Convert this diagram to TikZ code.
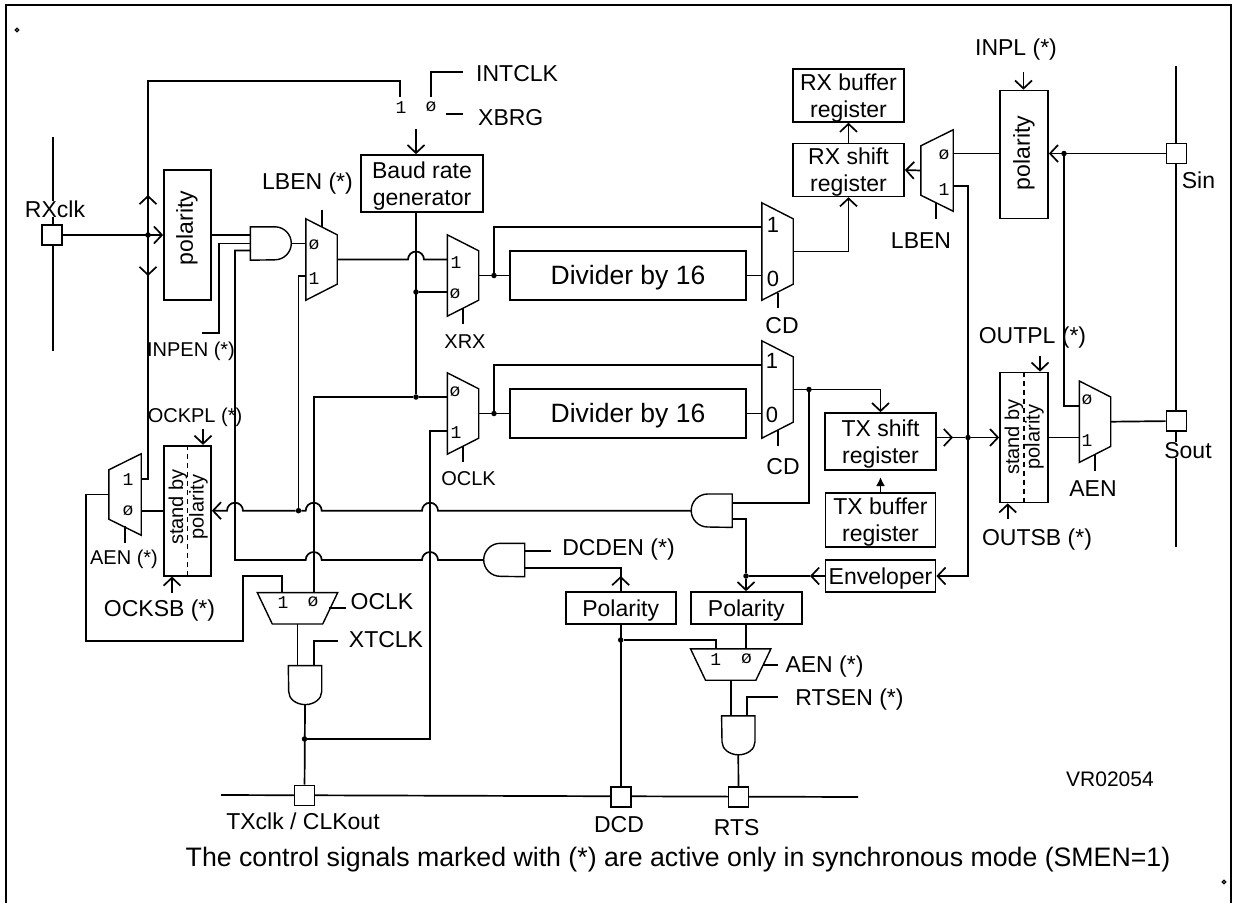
\documentclass[tikz,border=0pt]{standalone}
\usepackage{fontspec}
\setmainfont{Liberation Sans}
\newfontfamily\monofam{Liberation Mono}
\usetikzlibrary{arrows.meta,calc}
% wire hops over a vertical wire, walking right or left
\newcommand{\hopr}[1]{-- ($(#1)+(-8,0)$) arc[start angle=180,end angle=0,radius=8pt]}
\newcommand{\hopl}[1]{-- ($(#1)+(8,0)$) arc[start angle=0,end angle=180,radius=8pt]}
\tikzset{
  wire/.style={line width=1.7pt},
  gateline/.style={line width=1.4pt, line join=miter},
  regbox/.style={draw, line width=1.7pt, inner sep=0pt, align=center, text height=48pt, font=\fontsize{23}{27}\selectfont},
  oneline/.style={regbox, text height=19pt, text depth=3pt},
  divbox/.style={regbox, text height=23pt, text depth=5pt, minimum width=236pt, minimum height=49pt, font=\fontsize{26.5}{28}\selectfont},
  polbox/.style={draw, line width=1.7pt, inner sep=0pt},
  padbox/.style={draw, fill=white, line width=1.7pt, inner sep=0pt, minimum size=20pt},
  jdot/.style={circle, fill=black, inner sep=0pt, minimum size=5.5pt},
  cornerdot/.style={circle, draw, line width=1.3pt, inner sep=0pt, minimum size=3.5pt},
  lab/.style={inner sep=0pt, text height=16.5pt, text depth=0pt, font=\fontsize{23}{27}\selectfont},
  labs/.style={inner sep=0pt, text height=14.4pt, text depth=0pt, font=\fontsize{20}{24}\selectfont},
  digit/.style={inner sep=0pt, font=\monofam\fontsize{18}{20}\selectfont},
  muxright/.style={inner sep=0pt, minimum width=31pt, minimum height=#1,
    append after command={\pgfextra{\draw[gateline] (\tikzlastnode.north west) -- ($(\tikzlastnode.north east)+(0,16)$) -- ($(\tikzlastnode.south east)+(0,-16)$) -- (\tikzlastnode.south west) -- cycle;}}},
  muxleft/.style={inner sep=0pt, minimum width=32pt, minimum height=#1,
    append after command={\pgfextra{\draw[gateline] (\tikzlastnode.north east) -- ($(\tikzlastnode.north west)+(0,16)$) -- ($(\tikzlastnode.south west)+(0,-16)$) -- (\tikzlastnode.south east) -- cycle;}}},
  muxdown/.style={inner sep=0pt, minimum width=80pt, minimum height=31pt,
    append after command={\pgfextra{\draw[gateline] (\tikzlastnode.north west) -- (\tikzlastnode.north east) -- ($(\tikzlastnode.south east)+(-15,0)$) -- ($(\tikzlastnode.south west)+(15,0)$) -- cycle;}}},
  andright/.style={inner sep=0pt, minimum width=41pt, minimum height=33pt,
    append after command={\pgfextra{\draw[gateline] (\tikzlastnode.north west) -- ++(24.5,0) arc[start angle=90,end angle=-90,radius=16.5pt] -- (\tikzlastnode.south west) -- cycle;}}},
  andleft/.style={inner sep=0pt, minimum width=41pt, minimum height=33pt,
    append after command={\pgfextra{\draw[gateline] (\tikzlastnode.north east) -- ++(-24.5,0) arc[start angle=90,end angle=270,radius=16.5pt] -- (\tikzlastnode.south east) -- cycle;}}},
  anddown/.style={inner sep=0pt, minimum width=33pt, minimum height=39pt,
    append after command={\pgfextra{\draw[gateline] (\tikzlastnode.north east) -- ++(0,26) arc[start angle=0,end angle=-180,x radius=16.5pt,y radius=13pt] -- (\tikzlastnode.north west) -- cycle;}}},
}
\begin{document}
\begin{tikzpicture}[x=1pt, y=-1pt, >={Straight Barb[length=8pt,width=17pt]}]
\useasboundingbox (0,0) rectangle (1237,903);
% Frame and corner marks
\draw[line width=2pt] (6,903) -- (6,5) -- (1231,5) -- (1231,903);
\node[cornerdot] (marka) at (17,30) {};
\node[cornerdot] (markb) at (1224,882) {};
% Baud rate part and registers
\node[regbox, minimum width=122pt, minimum height=57pt] (baud) at (422,183.5) {Baud rate\\generator};
\node[regbox, minimum width=111pt, minimum height=51pt] (rxbuf) at (848.5,95.5) {RX buffer\\register};
\node[regbox, minimum width=111pt, minimum height=48pt] (rxshift) at (848.5,170) {RX shift\\register};
\node[regbox, minimum width=111pt, minimum height=57pt] (txshift) at (880.5,441.5) {TX shift\\register};
\node[regbox, minimum width=110pt, minimum height=54pt] (txbuf) at (880.5,520) {TX buffer\\register};
\node[oneline, minimum width=110pt, minimum height=32pt] (envel) at (880.5,576) {Enveloper};
\node[oneline, minimum width=110pt, minimum height=32pt] (polL) at (620.7,608) {Polarity};
\node[oneline, minimum width=111pt, minimum height=32pt] (polR) at (746.3,608) {Polarity};
\node[divbox] (divone) at (628,275.5) {Divider by 16};
\node[divbox] (divtwo) at (628,413.5) {Divider by 16};
% Upright boxes, text turned separately
\node[polbox, minimum width=47pt, minimum height=130pt] (polrx) at (187.5,235) {};
\node[polbox, minimum width=48pt, minimum height=128pt] (polin) at (1024,154.5) {};
\node[polbox, minimum width=48pt, minimum height=130pt] (sbout) at (1024,437.5) {};
\node[polbox, minimum width=47pt, minimum height=130pt] (sbck) at (187.5,510.7) {};
\draw[wire, dash pattern=on 5pt off 4pt] (sbout.north) -- (sbout.south);
\draw[wire, dash pattern=on 5pt off 4pt] (sbck.north) -- (sbck.south);
\node[lab, rotate=90, text depth=5pt] (tpolrx) at (187,228) {polarity};
\node[lab, rotate=90, text depth=5pt] (tpolin) at (1024,153) {polarity};
\node[labs, rotate=90] (tsbouta) at (1012,437) {stand by};
\node[labs, rotate=90, text depth=5pt] (tsboutb) at (1035,437) {polarity};
\node[labs, rotate=90] (tsbcka) at (176,507) {stand by};
\node[labs, rotate=90, text depth=5pt] (tsbckb) at (199,507) {polarity};
% Muxes and gates
\node[muxright=81pt] (mxlb) at (321.5,259.5) {};
\node[muxright=81pt] (mxrx) at (463,275.5) {};
\node[muxright=81pt] (mxoc) at (463,413.5) {};
\node[muxright=97pt] (mxcdrx) at (777.5,251.5) {};
\node[muxright=97pt] (mxcdtx) at (777.5,389.5) {};
\node[muxright=81pt] (mxout) at (1095,421.7) {};
\node[muxleft=81pt] (mxin) at (937,170.5) {};
\node[muxleft=81pt] (mxck) at (125,494.5) {};
\node[muxdown] (mxtx) at (297.5,608.3) {};
\node[muxdown] (mxrt) at (730.7,664.5) {};
\node[andright] (gaterx) at (271,243.5) {};
\node[andleft] (gatetx) at (711.5,510.7) {};
\node[andleft] (gatedc) at (504,560) {};
\node[anddown] (gateck) at (305,685.3) {};
\node[anddown] (gatert) at (738.3,735.5) {};
% Junctions
\node[jdot] (jrx) at (148,235) {};
\node[jdot] (jbaudb) at (416,292) {};
\node[jdot] (jbaudo) at (416,397) {};
\node[jdot] (jxrx) at (494,275.5) {};
\node[jdot] (joc) at (494,413.5) {};
\node[jdot] (jtxo) at (809,389.5) {};
\node[jdot] (jtxs) at (968,437.5) {};
\node[jdot] (jsin) at (1064,153.5) {};
\node[jdot] (jenv) at (746,576) {};
\node[jdot] (jfb) at (298.5,510.7) {};
\node[jdot] (jdcd) at (620.7,640) {};
\node[jdot] (jtxc) at (304.5,739) {};
% Free ends and corners
\coordinate (rxtop) at (53,137);
\coordinate (rxbot) at (53,351);
\coordinate (sintop) at (1176,66);
\coordinate (sinbot) at (1176,547);
\coordinate (busl) at (221,795);
\coordinate (busr) at (858,797);
\coordinate (selone) at (400,97);
\coordinate (selzero) at (431,97);
\coordinate (intend) at (463,72);
\coordinate (baudin) at (416,129);
\coordinate (inpend) at (202,333);
\coordinate (andmid) at (219,243.5);
\coordinate (andlow) at (235,560);
\coordinate (oclkin) at (313.7,592.7);
\coordinate (cklin) at (282,592.7);
\coordinate (ockone) at (430,431);
\coordinate (rtsone) at (715.7,649);
\coordinate (dcdend) at (551,550.7);
\coordinate (xtend) at (337.7,640.7);
\coordinate (rtsend) at (778,697);
\coordinate (inplin) at (1023.5,72);
\coordinate (outplin) at (1040,356);
\coordinate (outsbin) at (1007.7,519);
\coordinate (ockplin) at (203,429);
\coordinate (ocksbin) at (172,593);
% Rails and pads
\draw[wire] (rxtop) -- (rxbot);
\draw[wire] (sintop) -- (sinbot);
\draw[wire] (busl) -- (busr);
\node[padbox] (padrx) at (52,235) {};
\node[padbox] (padsin) at (1176.5,153.5) {};
\node[padbox] (padout) at (1176.5,421) {};
\node[padbox] (padtx) at (304.5,795.5) {};
\node[padbox] (paddcd) at (620.7,797) {};
\node[padbox] (padrts) at (738.5,797) {};
% Clock input side
\draw[wire, ->] (padrx) -- (polrx.west |- padrx);
\draw[wire] (mxck.east |- 0,479) -| (148,81) -| (selone);
\draw[wire, ->] (jrx) -- (148,195);
\draw[wire, ->] (jrx) -- (148,276);
\draw[wire] (polrx.east |- jrx) -- (gaterx.west |- jrx);
\draw[wire] (inpend) -| (andmid) -- (gaterx.west);
\draw[wire] (gaterx.west |- 0,250.5) -| (andlow) \hopr{oclkin |- andlow} \hopr{ockone |- andlow} -- (gatedc.west);
\draw[wire] (gaterx.east) -- (mxlb.west |- gaterx.east);
\draw[wire] (322,210) -- (322,227);
\draw[wire] (mxlb.east) \hopr{416,259.5} -- (mxrx.west |- mxlb.east);
\draw[wire] (mxlb.west |- 0,276) -| (jfb);
% Baud rate generator
\draw[wire] (selzero) |- (intend);
\draw[wire] (446,114) -- (463,114);
\draw[wire, ->] (baudin) -- (baudin |- baud.north);
\draw[wire] (baudin |- baud.south) -- (jbaudo);
\draw[wire] (jbaudb) -- (mxrx.west |- jbaudb);
\draw[wire] (jbaudo) -- (mxoc.west |- jbaudo);
\draw[wire] (jbaudo) -| (oclkin);
% Receive path
\draw[wire] (463,308) -- (463,324);
\draw[wire] (mxrx.east) -- (divone.west);
\draw[wire] (jxrx) |- (mxcdrx.west |- 0,227);
\draw[wire] (divone.east) -- (mxcdrx.west |- divone.east);
\draw[wire] (778,293) -- (778,308);
\draw[wire, ->] (mxcdrx.east) -| (rxshift.south);
\draw[wire, ->] (rxshift.north) -- (rxbuf.south);
\draw[wire, ->] (mxin.west) -- (rxshift.east);
\draw[wire] (936,203) -- (936,219);
\draw[wire] (mxin.east |- jsin) -- (polin.west |- jsin);
\draw[wire, ->] (padsin) -- (polin.east |- padsin);
\draw[wire] (jsin) |- (mxout.west |- 0,406);
\draw[wire, ->] (inplin) -- (inplin |- polin.north);
\draw[wire] (mxin.east |- 0,186) -| (jtxs);
\draw[wire, ->] (jtxs) |- (envel.east);
% Transmit path
\draw[wire] (463,446) -- (463,462);
\draw[wire] (mxoc.east) -- (divtwo.west);
\draw[wire] (joc) |- (mxcdtx.west |- 0,365);
\draw[wire] (divtwo.east) -- (mxcdtx.west |- divtwo.east);
\draw[wire] (778,430) -- (778,446);
\draw[wire, ->] (mxcdtx.east) -| (txshift.north);
\draw[wire] (jtxo) |- (gatetx.east |- 0,502.7);
\draw[wire, -{Latex[length=9pt,width=9pt]}] (txbuf.north) -- (880.5,477);
\draw[wire, ->] (txshift.east |- jtxs) -- (953,437.5);
\draw[wire] (953,437.5) -- (jtxs);
\draw[wire, ->] (jtxs) -- (sbout.west);
\draw[wire] (sbout.east) -- (mxout.west |- sbout.east);
\draw[wire] (mxout.east) -- (padout);
\draw[wire] (1095,455) -- (1095,471);
\draw[wire, ->] (outplin) -- (outplin |- sbout.north);
\draw[wire, ->] (outsbin) -- (outsbin |- sbout.south);
% Modem control side
\draw[wire, ->] (envel.west) -- (810,576);
\draw[wire] (810,576) -- (jenv);
\draw[wire] (gatetx.east |- 0,518.7) -| (jenv);
\draw[wire, ->] (jenv) -- (jenv |- polR.north);
\draw[wire] (gatedc.east |- dcdend) -- (dcdend);
\draw[wire] (gatedc.east |- 0,567.7) -| (polL.north);
\draw[wire, ->] (polL.north) -- (620.7,576);
\draw[wire] (polL.south) -- (paddcd);
\draw[wire] (jdcd) -| (rtsone);
\draw[wire] (polR.south) -- (polR.south |- mxrt.north);
\draw[wire] (762.7,665) -- (778,665);
\draw[wire] (mxrt.south) -- (mxrt.south |- gatert.north);
\draw[wire] (rtsend) -| (746.7,716);
\draw[wire] (gatert.south) -- (padrts);
% Clock output side
\draw[wire, ->] (gatetx.west) \hopl{ockone |- jfb} \hopl{oclkin |- jfb} -- (jfb) \hopl{andlow |- jfb} -- (sbck.east);
\draw[wire] (mxck.east |- sbck.west) -- (sbck.west);
\draw[wire] (125,526) -- (125,543);
\draw[wire, ->] (ockplin) -- (ockplin |- sbck.north);
\draw[wire, ->] (ocksbin) -- (ocksbin |- sbck.south);
\draw[wire] (mxck.west) -| (86,640.7) -| (243,576) -| (cklin);
\draw[wire] (329,607.7) -- (346,607.7);
\draw[wire] (mxtx.south) -- (mxtx.south |- gateck.north);
\draw[wire] (xtend) -| (314,665.7);
\draw[wire] (gateck.south) -- (padtx);
\draw[wire] (jtxc) -| (ockone) -- (mxoc.west |- ockone);
% Mux inputs
\node[digit] (dsela) at (401,108) {1};
\node[digit] (dselb) at (431,107) {ø};
\node[digit] (dlba) at (314,245) {ø};
\node[digit] (dlbb) at (314,279) {1};
\node[digit] (drxa) at (456,263) {1};
\node[digit] (drxb) at (455,294) {ø};
\node[digit] (doca) at (455,392) {ø};
\node[digit] (docb) at (456,433) {1};
\node[digit] (dina) at (944,155) {ø};
\node[digit] (dinb) at (944,190) {1};
\node[digit] (douta) at (1087,400) {ø};
\node[digit] (doutb) at (1087,441) {1};
\node[digit] (dcka) at (128,480) {1};
\node[digit] (dckb) at (128,511) {ø};
\node[digit] (dtxa) at (283,603) {1};
\node[digit] (dtxb) at (313,602) {ø};
\node[digit] (drta) at (715.7,660) {1};
\node[digit] (drtb) at (746.5,659) {ø};
\node[labs, font=\fontsize{22}{24}\selectfont] (dcda) at (773,225) {1};
\node[labs, font=\fontsize{22}{24}\selectfont] (dcdb) at (773,279) {0};
\node[labs, font=\fontsize{22}{24}\selectfont] (dcdc) at (772,361) {1};
\node[labs, font=\fontsize{22}{24}\selectfont] (dcdd) at (772,415) {0};
% Signal names
\node[lab, fill=white] (trxclk) at (55,209) {RXclk};
\node[lab, anchor=west] (tintclk) at (476,73) {INTCLK};
\node[lab, anchor=west] (txbrg) at (478,117) {XBRG};
\node[lab] (tlben) at (307.5,181) {LBEN (*)};
\node[labs] (tinpen) at (191,349) {INPEN (*)};
\node[labs] (tockpl) at (195,415) {OCKPL (*)};
\node[labs] (txrx) at (465,341) {XRX};
\node[lab] (tcda) at (782,325) {CD};
\node[labs] (toclka) at (468.5,478) {OCLK};
\node[lab] (tcdb) at (783,466) {CD};
\node[lab] (tinpl) at (1016,47) {INPL (*)};
\node[lab] (tsin) at (1198.5,180) {Sin};
\node[lab] (tlbenb) at (921,240) {LBEN};
\node[lab] (toutpl) at (1032.5,335) {OUTPL (*)};
\node[lab, fill=white] (tsout) at (1188,450) {Sout};
\node[lab] (taen) at (1093,488) {AEN};
\node[lab] (toutsb) at (1037,537) {OUTSB (*)};
\node[labs] (taenb) at (124,557) {AEN (*)};
\node[lab] (tocksb) at (159.5,608) {OCKSB (*)};
\node[lab] (toclkb) at (382,601.7) {OCLK};
\node[lab] (txtclk) at (386,639) {XTCLK};
\node[lab] (tdcden) at (618.5,547) {DCDEN (*)};
\node[lab] (taenc) at (824.5,664) {AEN (*)};
\node[lab] (trtsen) at (849.5,697) {RTSEN (*)};
\node[labs, font=\fontsize{21}{24}\selectfont] (tvr) at (1110,779) {VR02054};
\node[lab] (ttxclk) at (303,821) {TXclk / CLKout};
\node[lab] (tdcd) at (619,824) {DCD};
\node[lab] (trts) at (736.7,827) {RTS};
\node[lab, font=\fontsize{26.7}{28}\selectfont, text height=19pt] (tnote) at (678,857) {The control signals marked with (*) are active only in synchronous mode (SMEN=1)};
\end{tikzpicture}
\end{document}
